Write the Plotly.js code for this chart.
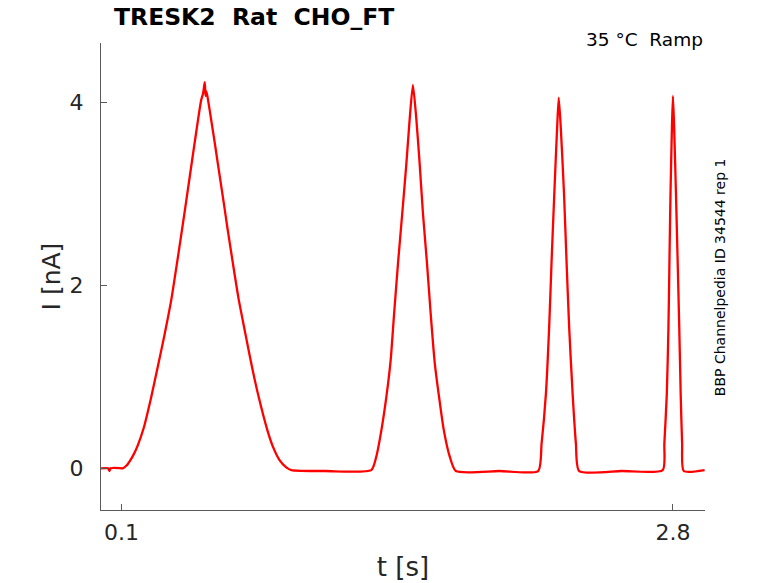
<!DOCTYPE html>
<html>
<head>
<meta charset="utf-8">
<script src="https://cdn.plot.ly/plotly-3.0.1.min.js"></script>
<style>
  html, body { margin: 0; padding: 0; background: #fff; }
  #chart { width: 778px; height: 583px; }
</style>
</head>
<body>
<div id="chart"></div>
<script>
// ramp recording
const timeS = [
    0.000, 0.035, 0.041, 0.047, 0.100, 0.106, 0.125, 0.144, 0.162, 0.180,
    0.209, 0.246, 0.278, 0.311, 0.344, 0.378, 0.412, 0.458, 0.490, 0.500,
    0.508, 0.512, 0.516, 0.523, 0.540, 0.556, 0.572, 0.605, 0.618, 0.645,
    0.673, 0.706, 0.738, 0.773, 0.814, 0.841, 0.874, 0.907, 0.932, 1.100,
    1.323, 1.348, 1.373, 1.397, 1.418, 1.434, 1.454, 1.475, 1.495, 1.511,
    1.527, 1.544, 1.560, 1.576, 1.596, 1.614, 1.634, 1.655, 1.678, 1.707,
    1.737, 1.950, 2.140, 2.157, 2.178, 2.194, 2.206, 2.219, 2.233, 2.241,
    2.251, 2.267, 2.279, 2.292, 2.309, 2.325, 2.341, 2.550, 2.750, 2.758,
    2.770, 2.778, 2.783, 2.788, 2.795, 2.800, 2.806, 2.815, 2.823, 2.831,
    2.838, 2.845, 2.853, 2.955
];
const currentNA = [
    0.00, 0.00, -0.03, 0.00, 0.00, 0.00, 0.03, 0.09, 0.16, 0.25,
    0.44, 0.78, 1.11, 1.46, 1.84, 2.33, 2.84, 3.55, 4.02, 4.10,
    4.22, 4.07, 4.12, 4.04, 3.80, 3.57, 3.33, 2.84, 2.64, 2.25,
    1.86, 1.48, 1.12, 0.77, 0.42, 0.24, 0.09, 0.01, -0.02, -0.03,
    -0.02, 0.13, 0.42, 0.78, 1.18, 1.66, 2.24, 2.79, 3.33, 3.81,
    4.19, 3.81, 3.33, 2.79, 2.24, 1.69, 1.15, 0.78, 0.42, 0.13,
    -0.03, -0.03, -0.03, 0.27, 0.81, 1.54, 2.27, 2.99, 3.72, 4.05,
    3.72, 2.99, 2.27, 1.54, 0.81, 0.27, -0.03, -0.03, -0.02, 0.27,
    0.81, 1.54, 2.27, 2.99, 3.72, 4.07, 3.72, 2.99, 2.27, 1.54,
    0.81, 0.27, -0.03, -0.02
];
const xTicks = [0.1, 2.8];
const xTickText = ['0.1', '2.8'];
const yTicks = [0, 2, 4];
const yTickText = ['0', '2', '4'];

const axisGrey = '#5a5a5a';
const txtGrey = '#262626';

const trace = {
    type: 'scatter',
    mode: 'lines',
    x: timeS,
    y: currentNA,
    line: { color: '#ff0000', width: 2.3, shape: 'spline', smoothing: 0.6 },
    hoverinfo: 'skip',
    showlegend: false,
};

const layout = {
    width: 778,
    height: 583,
    margin: { l: 101, r: 73, t: 43, b: 73 },
    paper_bgcolor: '#ffffff',
    plot_bgcolor: '#ffffff',
    font: { family: 'DejaVu Sans', color: txtGrey },
    title: {
        text: '<b>TRESK2\u00a0\u00a0Rat\u00a0\u00a0CHO_FT</b>',
        font: { family: 'DejaVu Sans', size: 23.5, color: '#000000' },
        xref: 'container', x: 114 / 778, xanchor: 'left',
        yref: 'container', y: 1 - 17 / 583, yanchor: 'middle',
    },
    xaxis: {
        range: [0, 2.957],
        tickmode: 'array',
        tickvals: xTicks,
        ticktext: xTickText,
        ticks: 'inside',
        ticklen: 6,
        tickcolor: axisGrey,
        tickfont: { size: 22, color: txtGrey },
        ticklabelstandoff: 3,
        showline: true,
        linecolor: axisGrey,
        linewidth: 1,
        showgrid: false,
        zeroline: false,
        title: { text: 't [s]', font: { size: 26, color: txtGrey }, standoff: 13 },
    },
    yaxis: {
        range: [-0.456, 4.648],
        tickmode: 'array',
        tickvals: yTicks,
        ticktext: yTickText,
        ticks: 'inside',
        ticklen: 6,
        tickcolor: axisGrey,
        tickfont: { size: 22, color: txtGrey },
        ticklabelstandoff: 12,
        showline: true,
        linecolor: axisGrey,
        linewidth: 1,
        showgrid: false,
        zeroline: false,
        title: { text: 'I [nA]', font: { size: 25, color: txtGrey }, standoff: 1 },
    },
    annotations: [
        {
            text: '35 °C\u00a0\u00a0Ramp',
            xref: 'paper', x: 1, xanchor: 'right',
            yref: 'paper', y: 1 + 3 / 467, yanchor: 'middle',
            showarrow: false,
            font: { size: 18.5, color: '#000000' },
        },
        {
            text: 'BBP Channelpedia ID 34544 rep 1',
            xref: 'paper', x: 1 + 15.7 / 604, xanchor: 'center',
            yref: 'paper', y: 0.498, yanchor: 'middle',
            textangle: -90,
            showarrow: false,
            font: { size: 14, color: '#000000' },
        },
    ],
};

Plotly.newPlot('chart', [trace], layout, { displayModeBar: false, staticPlot: true });
</script>
</body>
</html>
